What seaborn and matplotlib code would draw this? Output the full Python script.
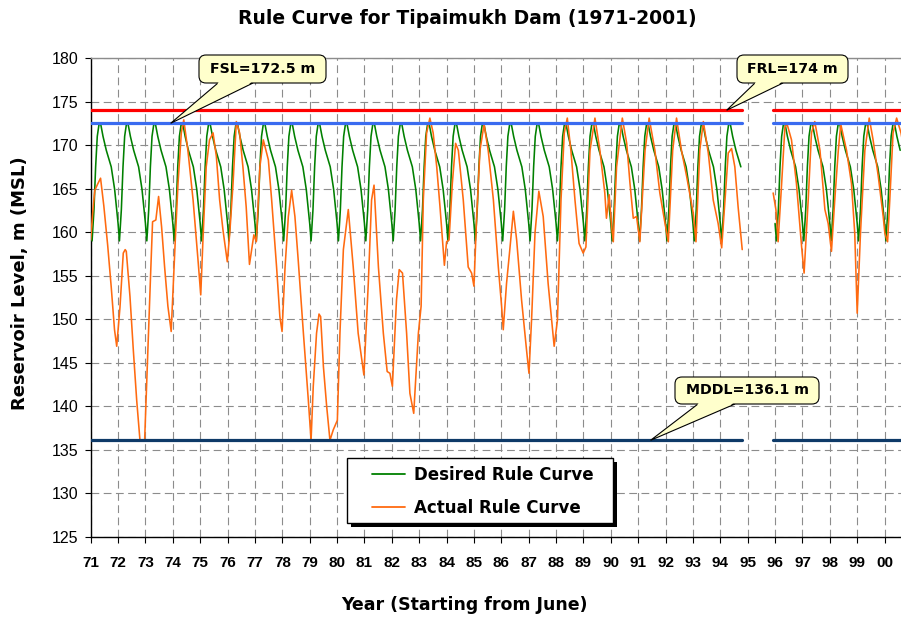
import numpy as np
import pandas as pd
import matplotlib
matplotlib.use("Agg")
import matplotlib.pyplot as plt
import matplotlib.transforms as mtransforms
from matplotlib.patches import FancyBboxPatch, Polygon, Rectangle
from matplotlib.lines import Line2D
import seaborn as sns

# ---------------- data ----------------
START_YEAR = 71
YEAR_TICKS = list(range(71, 101))
YEAR_LABELS = [f"{y % 100:02d}" for y in YEAR_TICKS]

FRL = 174.0
FSL = 172.5
MDDL = 136.1

# data segments (years since June 1971) - the 1995 water year is missing
SEG_BOUNDS = [(0.0, 23.80), (24.93, 29.65)]

# desired rule curve: one annual cycle (fraction of year -> level), same every year
DES_FRAC = [0.00, 0.05, 0.12, 0.18, 0.24, 0.30, 0.36, 0.45, 0.57, 0.75, 0.875]
DES_LEVEL = [161.0, 159.0, 162.6, 167.5, 171.0, 172.3, 172.5, 171.0, 169.4, 167.5, 164.9]

# actual rule curve, segment 1 (years since June 1971)
ACT1_T = [0.00, 0.08, 0.15, 0.25, 0.36, 0.48, 0.62, 0.75, 0.87, 0.95,
          1.07, 1.19, 1.26, 1.30, 1.435, 1.556, 1.68, 1.80, 1.97,
          2.10, 2.19, 2.26, 2.38, 2.48, 2.59, 2.70, 2.82, 2.94,
          3.09, 3.19, 3.31, 3.40, 3.55, 3.74, 3.92, 4.02,
          4.10, 4.22, 4.34, 4.47, 4.59, 4.71, 4.83, 4.99,
          5.08, 5.20, 5.32, 5.44, 5.56, 5.68, 5.80, 5.96, 6.05,
          6.18, 6.305, 6.49, 6.61, 6.79, 6.91, 6.99,
          7.10, 7.22, 7.34, 7.46, 7.58, 7.77, 7.95, 8.05,
          8.13, 8.25, 8.34, 8.40, 8.50, 8.62, 8.74, 8.86, 9.01,
          9.105, 9.23, 9.41, 9.59, 9.77, 9.98,
          10.14, 10.26, 10.35, 10.51, 10.69, 10.83, 10.93, 11.02,
          11.17, 11.27, 11.39, 11.54, 11.66, 11.80,
          11.97, 12.07, 12.15, 12.27, 12.39, 12.51, 12.64, 12.76, 12.92,
          13.00, 13.09, 13.21, 13.33, 13.43, 13.61, 13.79, 13.915, 14.00,
          14.10, 14.22, 14.37, 14.52, 14.71, 14.89, 15.01, 15.07,
          15.19, 15.31, 15.44, 15.56, 15.74, 15.92, 16.01,
          16.11, 16.23, 16.37, 16.53, 16.71, 16.93,
          17.05, 17.18, 17.30, 17.41, 17.54, 17.69, 17.84, 17.99,
          18.09, 18.24, 18.42, 18.60, 18.78, 18.84, 18.94, 19.03, 19.09,
          19.21, 19.42, 19.58, 19.70, 19.82, 19.94, 20.06,
          20.25, 20.40, 20.61, 20.79, 20.98, 21.10,
          21.26, 21.40, 21.58, 21.77, 22.01, 22.11,
          22.25, 22.38, 22.56, 22.74, 22.92, 23.05,
          23.17, 23.29, 23.41, 23.53, 23.65, 23.80]
ACT1_LEVEL = [159.1, 162.5, 164.8, 165.5, 166.2, 163.0, 158.5, 153.7, 148.8, 146.9,
              151.4, 157.6, 158.0, 157.8, 152.6, 146.5, 140.7, 136.1, 136.1,
              147.6, 155.3, 161.2, 161.4, 164.1, 160.6, 156.0, 151.5, 148.6,
              159.1, 165.6, 171.4, 172.9, 169.4, 163.7, 156.8, 152.8,
              159.1, 167.5, 170.6, 171.4, 168.7, 163.7, 160.3, 156.6,
              159.9, 165.6, 172.7, 171.4, 167.5, 162.9, 156.3, 159.7, 158.9,
              167.5, 170.6, 168.3, 163.7, 156.0, 150.3, 148.6,
              156.0, 161.8, 164.8, 161.8, 156.8, 148.4, 140.7, 136.1,
              142.3, 148.4, 150.6, 150.3, 144.6, 140.0, 136.1, 137.3, 138.4,
              148.4, 158.0, 162.6, 156.0, 148.4, 143.6,
              154.1, 163.7, 165.4, 156.0, 148.4, 144.0, 143.8, 142.3,
              152.2, 155.7, 155.3, 148.4, 141.5, 139.2,
              148.4, 151.5, 163.7, 171.4, 173.1, 171.4, 167.5, 162.9, 156.2,
              158.9, 159.1, 165.6, 170.2, 169.4, 163.7, 156.0, 155.3, 153.8,
              161.8, 169.4, 172.4, 169.4, 163.7, 156.0, 151.5, 148.8,
              154.1, 158.0, 162.4, 159.1, 152.2, 146.5, 143.8,
              150.3, 159.9, 164.7, 161.8, 154.1, 146.9,
              149.9, 163.7, 171.4, 173.1, 169.4, 163.7, 158.7, 157.6,
              158.3, 169.4, 173.1, 169.4, 164.5, 161.6, 164.3, 160.6, 158.9,
              167.5, 173.1, 170.2, 165.6, 161.6, 161.8, 158.9,
              169.4, 173.1, 169.4, 164.5, 161.0, 158.9,
              169.4, 173.1, 169.4, 166.4, 162.2, 158.9,
              169.4, 172.7, 169.1, 163.7, 161.0, 158.2,
              163.7, 169.1, 169.6, 167.5, 162.9, 158.0]

# actual rule curve, segment 2
ACT2_T = [24.93, 25.03, 25.11, 25.24, 25.36, 25.44, 25.60, 25.78, 25.97, 26.06,
          26.21, 26.33, 26.45, 26.64, 26.82, 26.94, 27.06,
          27.18, 27.31, 27.40, 27.61, 27.79, 27.91, 28.00,
          28.12, 28.28, 28.44, 28.58, 28.77, 28.95, 29.01, 29.11,
          29.19, 29.31, 29.44, 29.60, 29.65]
ACT2_LEVEL = [164.5, 162.6, 158.9, 165.6, 172.1, 172.4, 170.6, 165.6, 158.3, 155.3,
              163.7, 171.4, 172.7, 169.4, 162.6, 161.0, 157.8,
              163.7, 169.4, 172.4, 169.4, 165.6, 159.9, 150.7,
              159.9, 169.4, 173.1, 170.6, 166.4, 161.8, 159.9, 158.9,
              163.7, 171.4, 173.1, 171.4, 170.5]

# ---------------- tables ----------------
act = pd.concat([
    pd.DataFrame({"year": START_YEAR + np.array(ACT1_T), "level": ACT1_LEVEL, "seg": 1}),
    pd.DataFrame({"year": START_YEAR + np.array(ACT2_T), "level": ACT2_LEVEL, "seg": 2}),
], ignore_index=True)

des_rows = []
for k in range(0, 30):
    for f, lv in zip(DES_FRAC, DES_LEVEL):
        t = k + f
        for si, (a, b) in enumerate(SEG_BOUNDS):
            if (si == 0 and a <= t <= b) or (si == 1 and 24.99 <= t <= b):
                des_rows.append((START_YEAR + t, lv, si + 1))
des = pd.DataFrame(des_rows, columns=["year", "level", "seg"])

def ref_table(level):
    rows = []
    for si, (a, b) in enumerate(SEG_BOUNDS):
        rows += [(START_YEAR + a, level, si + 1), (START_YEAR + b, level, si + 1)]
    return pd.DataFrame(rows, columns=["year", "level", "seg"])

# ---------------- figure ----------------
W, H = 901, 618
sns.set_theme(style="white")
plt.rcParams["font.family"] = ["Liberation Sans", "DejaVu Sans"]
for k in ["text.color", "axes.labelcolor", "xtick.color", "ytick.color"]:
    plt.rcParams[k] = "black"
BOLDFONT = ["DejaVu Sans"]

fig = plt.figure(figsize=(W / 100, H / 100), dpi=100)
AX_LEFT, AX_TOP, AX_BOTTOM = 90.7, 58, 537
ax = fig.add_axes([AX_LEFT / W, 1 - AX_BOTTOM / H, (W - AX_LEFT) / W,
                   (AX_BOTTOM - AX_TOP) / H])
ax.set_xlim(71, 100.6)
ax.set_ylim(125, 180)

GREEN = "#008000"
ORANGE = "#FF6A10"
RED = "#FF0000"
BLUE = "#3A6BF0"
NAVY = "#0E3A68"

sns.lineplot(data=des, x="year", y="level", units="seg", estimator=None, sort=False,
             color=GREEN, lw=1.15, ax=ax, zorder=3)
sns.lineplot(data=act, x="year", y="level", units="seg", estimator=None, sort=False,
             color=ORANGE, lw=1.15, ax=ax, zorder=4)
for lvl, col in [(FRL, RED), (FSL, BLUE), (MDDL, NAVY)]:
    sns.lineplot(data=ref_table(lvl), x="year", y="level", units="seg", estimator=None,
                 sort=False, color=col, lw=2.3, ax=ax, zorder=5)

# grid
ax.set_yticks(np.arange(125, 181, 5))
ax.set_xticks(YEAR_TICKS)
ax.set_xticklabels(YEAR_LABELS, fontweight="bold", fontsize=11)
ax.tick_params(axis="y", labelsize=11.5, pad=5, direction="out", length=4, width=0.8,
               color="black", labelcolor="black", left=True)
ax.tick_params(axis="x", pad=10, direction="out", length=4, width=0.8, color="black",
               labelcolor="black", bottom=True)
ax.grid(True, color="#8c8c8c", lw=0.8, linestyle=(0, (7, 4)))
ax.set_axisbelow(True)
for s in ["left", "bottom"]:
    ax.spines[s].set_color("black")
    ax.spines[s].set_linewidth(1.0)
ax.spines["top"].set_color("#8c8c8c")
ax.spines["top"].set_linewidth(1.0)
ax.spines["right"].set_visible(False)
ax.set_xlabel("")
ax.set_ylabel("")

# titles
fig.text(467 / W, 1 - 18 / H, "Rule Curve for Tipaimukh Dam (1971-2001)",
         ha="center", va="center", fontsize=13.5, fontweight="bold", family=BOLDFONT,
         color="black")
fig.text(20 / W, 1 - 283 / H, "Reservoir Level, m (MSL)", rotation=90,
         ha="center", va="center", fontsize=13, fontweight="bold", family=BOLDFONT,
         color="black")
fig.text(464 / W, 1 - 605 / H, "Year (Starting from June)",
         ha="center", va="center", fontsize=12.5, fontweight="bold", family=BOLDFONT,
         color="black")

IDT = mtransforms.IdentityTransform()

# legend frame (with drop shadow), pixel box 347..613 x 458..523
LX0, LY0, LX1, LY1 = 347, 458, 613, 523
ax.add_patch(Rectangle((LX0 + 4, H - LY1 - 4), LX1 - LX0, LY1 - LY0, transform=IDT,
                       fc="black", ec="none", zorder=18, clip_on=False))
ax.add_patch(Rectangle((LX0, H - LY1), LX1 - LX0, LY1 - LY0, transform=IDT,
                       fc="white", ec="black", lw=1.0, zorder=19, clip_on=False))

handles = [Line2D([], [], color=GREEN, lw=1.3), Line2D([], [], color=ORANGE, lw=1.3)]
anchor = ax.transAxes.inverted().transform(IDT.transform((372, H - 466)))
leg = ax.legend(handles, ["Desired Rule Curve", "Actual Rule Curve"],
                loc="upper left", bbox_to_anchor=tuple(anchor), borderaxespad=0.0,
                frameon=False, handlelength=2.0, handletextpad=0.5,
                labelspacing=0.88, borderpad=0.0,
                prop={"weight": "bold", "size": 12, "family": BOLDFONT})
for t in leg.get_texts():
    t.set_color("black")
leg.set_zorder(20)

# callouts
YEL = "#FFFFCC"

def callout(text, tip_data, box_px, base_px):
    fig.canvas.draw()
    tip = ax.transData.transform(tip_data)
    x0, y0, x1, y1 = box_px
    yb = H - y1
    xa, xb = base_px
    tri = Polygon([[xa, yb], [xb, yb], tip], closed=True, transform=IDT, fc=YEL,
                  ec="black", lw=0.8, zorder=30)
    fig.add_artist(tri)
    box = FancyBboxPatch((x0, H - y1), x1 - x0, y1 - y0,
                         boxstyle="round,pad=0,rounding_size=7", transform=IDT,
                         fc=YEL, ec="black", lw=0.8, zorder=31)
    fig.add_artist(box)
    s = 1.5 / max(yb - tip[1], 1)
    xai = xa + (tip[0] - xa) * s
    xbi = xb + (tip[0] - xb) * s
    cover = Polygon([[xa + 1, yb + 1.5], [xb - 1, yb + 1.5], [xbi - 1, yb - 1.2],
                     [xai + 1, yb - 1.2]], closed=True, transform=IDT, fc=YEL,
                    ec="none", zorder=32)
    fig.add_artist(cover)
    fig.text((x0 + x1) / 2, H - (y0 + y1) / 2, text, transform=IDT, ha="center",
             va="center", fontsize=10.2, fontweight="bold", family=BOLDFONT,
             color="black", zorder=33)

callout("FSL=172.5 m", (73.92, FSL), (199, 55, 326, 83), (218, 253))
callout("FRL=174 m", (94.23, FRL), (737, 55, 848, 83), (755, 783))
callout("MDDL=136.1 m", (91.45, MDDL), (675, 377, 819, 404), (698, 735))

fig.savefig("out.png", dpi=100)
